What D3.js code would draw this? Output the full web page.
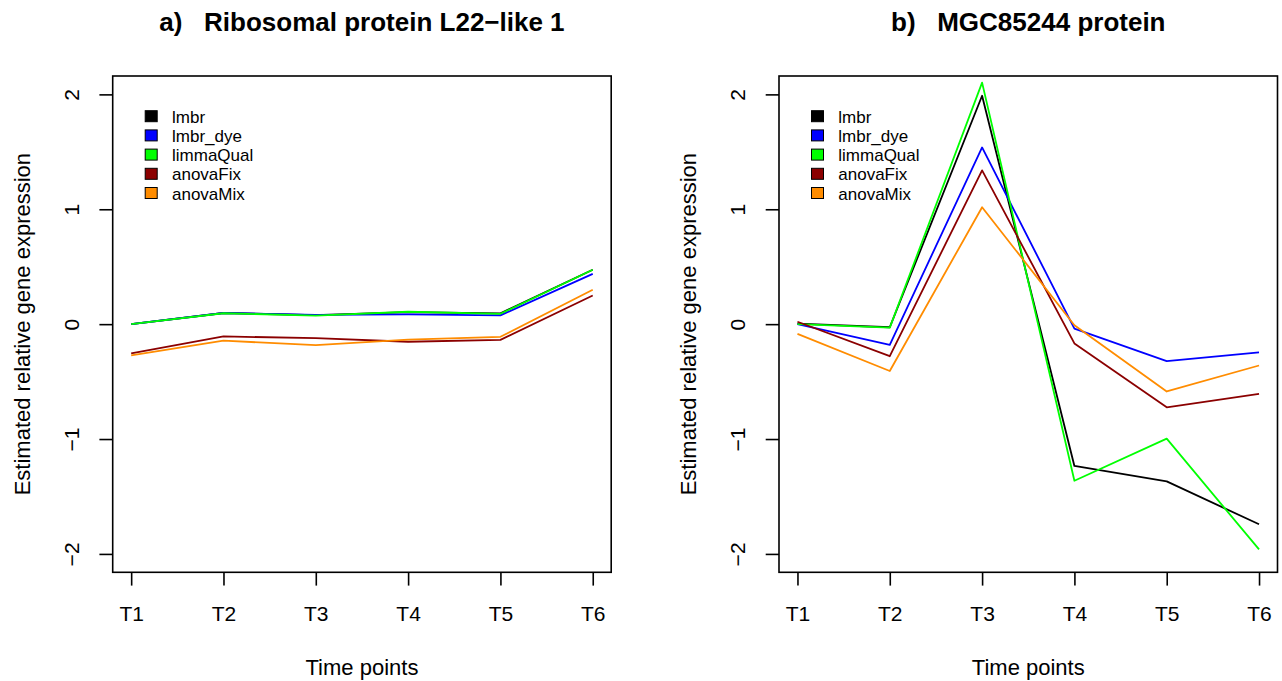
<!DOCTYPE html>
<html>
<head>
<meta charset="utf-8">
<script src="https://cdn.jsdelivr.net/npm/d3@7"></script>
<style>
  body { margin: 0; background: #fff; }
  svg text { font-family: "Liberation Sans", Arial, Helvetica, sans-serif; fill: #000; }
</style>
</head>
<body>
<svg id="chart" width="1282" height="681"></svg>
<script>
// ---- data ----
var timePoints = ["T1", "T2", "T3", "T4", "T5", "T6"];
var methods = ["lmbr", "lmbr_dye", "limmaQual", "anovaFix", "anovaMix"];
var methodColors = ["#000000", "#0000ff", "#00ff00", "#8b0000", "#ff8c00"];
var yTicks = [-2, -1, 0, 1, 2];

var titleA = "a)   Ribosomal protein L22\u2212like 1";
var lmbrA      = [0.000, 0.097, 0.078, 0.104, 0.094, 0.474];
var lmbrDyeA   = [0.000, 0.097, 0.080, 0.085, 0.076, 0.438];
var limmaQualA = [0.000, 0.095, 0.075, 0.108, 0.090, 0.474];
var anovaFixA  = [-0.254, -0.107, -0.122, -0.153, -0.137, 0.249];
var anovaMixA  = [-0.272, -0.144, -0.183, -0.134, -0.110, 0.300];

var titleB = "b)   MGC85244 protein";
var lmbrB      = [0.005, -0.027, 1.988, -1.234, -1.369, -1.742];
var lmbrDyeB   = [0.000, -0.180, 1.538, -0.039, -0.321, -0.246];
var limmaQualB = [0.000, -0.030, 2.102, -1.363, -0.997, -1.961];
var anovaFixB  = [0.021, -0.279, 1.339, -0.168, -0.724, -0.607];
var anovaMixB  = [-0.084, -0.408, 1.018, -0.009, -0.586, -0.360];

var panels = [
  { title: titleA, left: 112.7, series: [lmbrA, lmbrDyeA, limmaQualA, anovaFixA, anovaMixA] },
  { title: titleB, left: 779,   series: [lmbrB, lmbrDyeB, limmaQualB, anovaFixB, anovaMixB] }
];

// ---- layout ----
var svg = d3.select("#chart");
var boxW = 498.5, plotTop = 76, plotBottom = 572.3;
var tickLen = 13.3;

panels.forEach(function(p) {
  var g = svg.append("g");
  var x = d3.scaleLinear().domain([0.8, 6.2]).range([p.left, p.left + boxW]);
  var y = d3.scaleLinear().domain([-2.16, 2.16]).range([plotBottom, plotTop]);

  // lines
  var line = d3.line().x(function(d, i) { return x(i + 1); }).y(function(d) { return y(d); });
  p.series.forEach(function(vals, k) {
    g.append("path").datum(vals)
      .attr("d", line)
      .attr("fill", "none")
      .attr("stroke", methodColors[k])
      .attr("stroke-width", 1.8)
      .attr("stroke-linejoin", "round");
  });

  // box
  g.append("rect")
    .attr("x", p.left).attr("y", plotTop)
    .attr("width", boxW).attr("height", plotBottom - plotTop)
    .attr("fill", "none").attr("stroke", "#000").attr("stroke-width", 1.6);

  // x axis
  var xAxis = d3.axisBottom(x).tickValues(d3.range(1, 7))
    .tickFormat(function(d) { return timePoints[d - 1]; })
    .tickSize(tickLen).tickPadding(0);
  var gx = g.append("g").attr("transform", "translate(0," + plotBottom + ")").call(xAxis);
  gx.select(".domain").remove();
  gx.selectAll("line").attr("stroke-width", 1.6);
  gx.selectAll("text").attr("y", 0).attr("dy", null)
    .attr("transform", "translate(0,48.7)")
    .style("font-size", "21px");

  // y axis
  var yAxis = d3.axisLeft(y).tickValues(yTicks)
    .tickFormat(function(d) { return d < 0 ? "\u2212" + Math.abs(d) : String(d); })
    .tickSize(tickLen);
  var gy = g.append("g").attr("transform", "translate(" + p.left + ",0)").call(yAxis);
  gy.select(".domain").remove();
  gy.selectAll("line").attr("stroke-width", 1.6);
  gy.selectAll(".tick text")
    .attr("x", null).attr("dy", null)
    .attr("text-anchor", "middle")
    .attr("transform", "translate(-34,0) rotate(-90)")
    .style("font-size", "21px");

  // axis titles
  g.append("text")
    .attr("x", p.left + boxW / 2).attr("y", 675)
    .attr("text-anchor", "middle").style("font-size", "22px")
    .text("Time points");
  g.append("text")
    .attr("transform", "translate(" + (p.left - 82.7) + "," + ((plotTop + plotBottom) / 2) + ") rotate(-90)")
    .attr("text-anchor", "middle").style("font-size", "22px")
    .text("Estimated relative gene expression");

  // main title
  g.append("text")
    .attr("x", p.left + boxW / 2).attr("y", 31)
    .attr("text-anchor", "middle")
    .style("font-size", "26px").style("font-weight", "bold")
    .style("white-space", "pre")
    .text(p.title);

  // legend
  var leg = g.append("g");
  methods.forEach(function(m, k) {
    var cy = 116.7 + k * 19.2;
    leg.append("rect")
      .attr("x", p.left + 32.5).attr("y", cy - 6)
      .attr("width", 12).attr("height", 11)
      .attr("fill", methodColors[k]).attr("stroke", "#000").attr("stroke-width", 1);
    leg.append("text")
      .attr("x", p.left + 59.3).attr("y", cy + 6)
      .style("font-size", "17px")
      .text(m);
  });
});
</script>
</body>
</html>
